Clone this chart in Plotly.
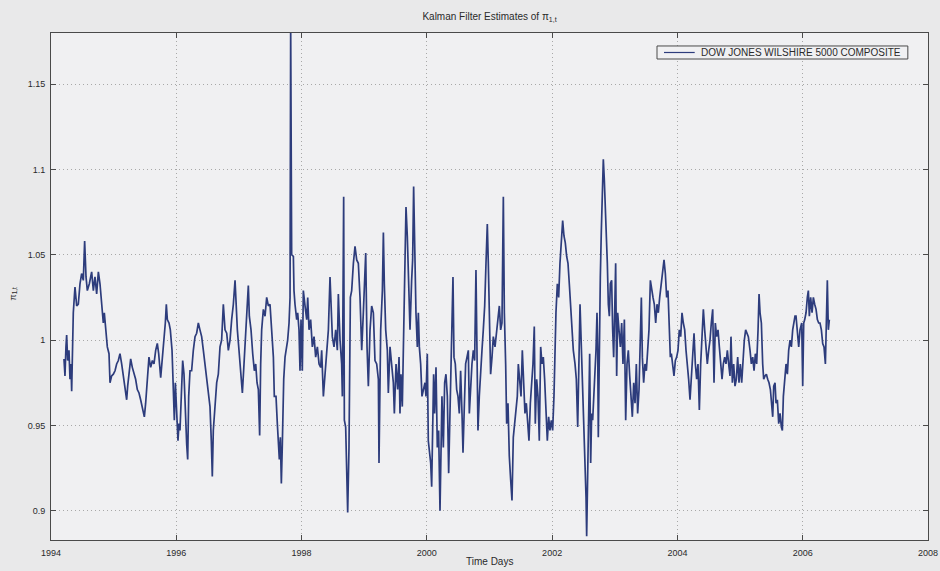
import plotly.graph_objects as go

# Decimal-year time stamps and Kalman filter estimates
years_94_96 = [1994.207, 1994.223, 1994.239, 1994.250, 1994.266, 1994.287, 1994.303, 1994.319, 1994.330, 1994.346,
               1994.356, 1994.372, 1994.383, 1994.410, 1994.436, 1994.463, 1994.489, 1994.516, 1994.537, 1994.559,
               1994.580, 1994.612, 1994.649, 1994.676, 1994.702, 1994.729, 1994.756, 1994.782, 1994.809, 1994.835,
               1994.851, 1994.873, 1994.899, 1994.926, 1994.942, 1994.968, 1994.995, 1995.022, 1995.048, 1995.075,
               1995.101, 1995.128, 1995.155, 1995.181, 1995.208, 1995.224, 1995.250, 1995.272, 1995.298, 1995.325,
               1995.351, 1995.378, 1995.405, 1995.431, 1995.458, 1995.490, 1995.511, 1995.538, 1995.564, 1995.591,
               1995.618, 1995.644, 1995.671, 1995.697, 1995.719, 1995.751, 1995.777, 1995.804, 1995.825, 1995.841,
               1995.857, 1995.884, 1995.905, 1995.932, 1995.953, 1995.969, 1995.985, 1996.006, 1996.027, 1996.043,
               1996.059, 1996.080, 1996.102, 1996.123, 1996.144, 1996.166, 1996.182, 1996.198, 1996.219, 1996.245,
               1996.272, 1996.299, 1996.325, 1996.352, 1996.378, 1996.405, 1996.432, 1996.458, 1996.485, 1996.511,
               1996.538, 1996.559, 1996.575, 1996.591, 1996.618, 1996.645, 1996.671, 1996.698, 1996.724, 1996.751]
values_94_96 = [0.989, 0.979, 0.996, 1.003, 0.988, 0.994, 0.977, 0.986, 0.970, 1.006,
                1.016, 1.025, 1.031, 1.020, 1.021, 1.033, 1.039, 1.035, 1.058, 1.037,
                1.029, 1.033, 1.040, 1.029, 1.037, 1.027, 1.040, 1.033, 1.021, 1.010,
                1.016, 1.006, 0.996, 0.992, 0.975, 0.979, 0.980, 0.982, 0.986, 0.988,
                0.992, 0.986, 0.979, 0.971, 0.965, 0.973, 0.980, 0.989, 0.984, 0.980,
                0.977, 0.971, 0.969, 0.965, 0.961, 0.955, 0.963, 0.979, 0.990, 0.984,
                0.988, 0.986, 0.994, 0.998, 0.992, 0.978, 0.988, 1.000, 1.010, 1.021,
                1.012, 1.010, 1.006, 0.994, 0.975, 0.953, 0.975, 0.955, 0.941, 0.951,
                0.947, 0.967, 0.988, 0.980, 0.957, 0.939, 0.930, 0.967, 0.982, 0.982,
                0.994, 1.002, 1.004, 1.010, 1.006, 1.002, 0.994, 0.986, 0.979, 0.969,
                0.961, 0.941, 0.920, 0.947, 0.963, 0.975, 0.980, 0.996, 1.000, 1.021]

years_96_99 = [1996.778, 1996.805, 1996.831, 1996.858, 1996.884, 1996.911, 1996.938, 1996.954, 1996.975, 1997.001,
               1997.028, 1997.055, 1997.081, 1997.108, 1997.135, 1997.150, 1997.166, 1997.193, 1997.220, 1997.246,
               1997.268, 1997.289, 1997.310, 1997.331, 1997.347, 1997.363, 1997.390, 1997.417, 1997.443, 1997.470,
               1997.496, 1997.523, 1997.550, 1997.565, 1997.592, 1997.613, 1997.629, 1997.645, 1997.661, 1997.677,
               1997.693, 1997.715, 1997.736, 1997.757, 1997.778, 1997.800, 1997.816, 1997.826, 1997.842, 1997.869,
               1997.879, 1997.895, 1997.922, 1997.938, 1997.959, 1997.975, 1997.991, 1998.012, 1998.028, 1998.055,
               1998.082, 1998.098, 1998.119, 1998.145, 1998.172, 1998.199, 1998.225, 1998.252, 1998.279, 1998.305,
               1998.321, 1998.348, 1998.374, 1998.401, 1998.428, 1998.454, 1998.470, 1998.491, 1998.518, 1998.545,
               1998.571, 1998.587, 1998.614, 1998.640, 1998.651, 1998.672, 1998.683, 1998.704, 1998.736, 1998.757,
               1998.779, 1998.800, 1998.827, 1998.853, 1998.880, 1998.906, 1998.933, 1998.960, 1998.986, 1999.024,
               1999.045, 1999.066, 1999.093, 1999.119, 1999.146, 1999.172, 1999.199, 1999.226, 1999.236, 1999.263,
               1999.290, 1999.306, 1999.321, 1999.343, 1999.369, 1999.385, 1999.412, 1999.439, 1999.465, 1999.481,
               1999.508, 1999.534, 1999.556]
values_96_99 = [1.006, 1.004, 0.994, 1.000, 1.012, 1.021, 1.035, 1.020, 1.006, 0.994,
                0.979, 0.969, 0.986, 1.004, 1.020, 1.032, 1.014, 1.006, 0.992, 0.982,
                0.986, 0.975, 0.971, 0.944, 0.986, 1.006, 1.018, 1.014, 1.025, 1.020,
                1.021, 1.006, 0.990, 0.967, 0.967, 0.951, 0.937, 0.930, 0.943, 0.916,
                0.939, 0.977, 0.990, 0.996, 1.000, 1.010, 1.025, 1.185, 1.050, 1.049,
                1.029, 1.021, 1.012, 1.016, 1.006, 0.982, 1.012, 0.982, 1.029, 1.020,
                1.012, 1.025, 1.006, 1.012, 0.996, 1.002, 0.990, 0.996, 0.986, 0.984,
                0.994, 0.967, 0.979, 0.990, 1.006, 1.037, 1.016, 1.002, 0.996, 1.006,
                0.994, 1.027, 1.000, 0.986, 0.967, 1.084, 0.953, 0.949, 0.899, 0.937,
                1.025, 1.029, 1.045, 1.055, 1.047, 1.045, 1.025, 0.994, 1.016, 1.051,
                0.996, 0.973, 1.006, 1.020, 1.016, 0.988, 0.986, 0.977, 0.928, 1.006,
                1.029, 1.063, 1.033, 1.006, 0.994, 0.969, 0.996, 0.986, 0.975, 0.957,
                0.986, 0.971, 0.990]

years_99_02 = [1999.571, 1999.587, 1999.608, 1999.624, 1999.645, 1999.667, 1999.688, 1999.709, 1999.731, 1999.757,
               1999.773, 1999.789, 1999.805, 1999.826, 1999.848, 1999.864, 1999.880, 1999.901, 1999.922, 1999.943,
               1999.970, 1999.986, 2000.007, 2000.023, 2000.039, 2000.061, 2000.077, 2000.092, 2000.108, 2000.124,
               2000.146, 2000.167, 2000.188, 2000.210, 2000.225, 2000.241, 2000.263, 2000.284, 2000.305, 2000.327,
               2000.348, 2000.369, 2000.385, 2000.401, 2000.417, 2000.433, 2000.454, 2000.476, 2000.497, 2000.518,
               2000.539, 2000.561, 2000.577, 2000.598, 2000.619, 2000.641, 2000.662, 2000.678, 2000.699, 2000.720,
               2000.742, 2000.763, 2000.784, 2000.800, 2000.816, 2000.837, 2000.859, 2000.880, 2000.901, 2000.923,
               2000.944, 2000.965, 2000.981, 2000.997, 2001.018, 2001.040, 2001.061, 2001.088, 2001.114, 2001.135,
               2001.157, 2001.178, 2001.199, 2001.221, 2001.237, 2001.258, 2001.274, 2001.295, 2001.316, 2001.338,
               2001.359, 2001.380, 2001.401, 2001.423, 2001.444, 2001.460, 2001.481, 2001.503, 2001.524, 2001.545,
               2001.566, 2001.588, 2001.609, 2001.630, 2001.652, 2001.673, 2001.694, 2001.715, 2001.731, 2001.753,
               2001.774, 2001.795, 2001.817, 2001.838, 2001.859, 2001.880, 2001.902, 2001.923, 2001.944, 2001.965,
               2001.987, 2002.008, 2002.029, 2002.045, 2002.061, 2002.083, 2002.104, 2002.125, 2002.146, 2002.168,
               2002.189, 2002.210, 2002.232, 2002.253, 2002.274, 2002.295, 2002.317, 2002.338]
values_99_02 = [0.957, 0.980, 0.961, 0.996, 1.025, 1.078, 1.061, 1.025, 1.006, 1.035,
                1.047, 1.090, 1.045, 1.016, 0.996, 1.016, 0.996, 0.986, 0.967, 0.971,
                0.975, 0.967, 0.992, 0.941, 0.934, 0.928, 0.914, 0.947, 0.980, 0.957,
                0.984, 0.937, 0.947, 0.900, 0.928, 0.967, 0.937, 0.975, 0.980, 0.967,
                0.922, 0.957, 0.996, 1.016, 1.037, 0.990, 0.986, 0.971, 0.967, 0.957,
                0.982, 0.957, 0.934, 0.961, 0.986, 0.990, 0.994, 0.957, 0.975, 0.986,
                0.994, 0.988, 1.041, 0.982, 0.947, 0.967, 0.986, 0.994, 1.006, 1.020,
                1.045, 1.068, 1.045, 1.006, 0.980, 0.990, 1.002, 0.996, 1.006, 1.012,
                1.020, 1.006, 1.010, 1.084, 1.016, 0.986, 0.951, 0.963, 0.932, 0.918,
                0.906, 0.943, 0.951, 0.955, 0.967, 0.986, 0.977, 0.967, 0.994, 0.971,
                0.957, 0.963, 0.951, 0.941, 0.963, 0.977, 0.986, 1.008, 0.951, 0.977,
                0.967, 0.941, 0.996, 0.986, 0.990, 0.977, 0.957, 0.941, 0.955, 0.947,
                0.953, 0.947, 0.967, 0.994, 1.016, 1.033, 1.025, 1.045, 1.055, 1.070,
                1.061, 1.057, 1.049, 1.045, 1.033, 1.020, 1.006, 0.994]

years_02_05 = [2002.365, 2002.386, 2002.408, 2002.429, 2002.445, 2002.461, 2002.482, 2002.503, 2002.525, 2002.541,
               2002.551, 2002.567, 2002.583, 2002.599, 2002.615, 2002.631, 2002.647, 2002.663, 2002.684, 2002.700,
               2002.716, 2002.727, 2002.737, 2002.753, 2002.769, 2002.785, 2002.801, 2002.817, 2002.833, 2002.849,
               2002.865, 2002.881, 2002.897, 2002.913, 2002.929, 2002.950, 2002.966, 2002.982, 2002.998, 2003.014,
               2003.030, 2003.046, 2003.067, 2003.089, 2003.110, 2003.131, 2003.153, 2003.174, 2003.195, 2003.216,
               2003.238, 2003.259, 2003.280, 2003.302, 2003.323, 2003.344, 2003.365, 2003.387, 2003.408, 2003.424,
               2003.440, 2003.461, 2003.482, 2003.504, 2003.525, 2003.546, 2003.568, 2003.589, 2003.610, 2003.631,
               2003.653, 2003.674, 2003.695, 2003.717, 2003.738, 2003.759, 2003.786, 2003.807, 2003.828, 2003.849,
               2003.871, 2003.887, 2003.903, 2003.924, 2003.945, 2003.967, 2003.988, 2004.009, 2004.030, 2004.052,
               2004.073, 2004.094, 2004.116, 2004.137, 2004.158, 2004.179, 2004.201, 2004.222, 2004.243, 2004.265,
               2004.286, 2004.307, 2004.328, 2004.350, 2004.371, 2004.392, 2004.414, 2004.435, 2004.456, 2004.477,
               2004.499, 2004.520, 2004.541, 2004.563, 2004.584, 2004.605, 2004.626, 2004.648, 2004.669, 2004.690,
               2004.712, 2004.733, 2004.754, 2004.775, 2004.797, 2004.818, 2004.839, 2004.855, 2004.877, 2004.898,
               2004.919, 2004.940, 2004.962, 2004.983, 2005.004, 2005.026, 2005.047, 2005.068, 2005.089, 2005.111,
               2005.132]
values_02_05 = [0.986, 0.977, 0.949, 0.994, 1.021, 1.002, 0.977, 0.957, 0.937, 0.908,
                0.885, 0.918, 0.955, 0.992, 0.928, 0.957, 0.953, 0.967, 0.977, 0.994,
                1.016, 0.996, 0.943, 1.006, 1.037, 1.064, 1.094, 1.106, 1.094, 1.080,
                1.064, 1.045, 1.021, 1.014, 1.033, 1.035, 1.006, 0.990, 1.016, 1.045,
                0.979, 1.016, 1.006, 0.996, 1.010, 0.986, 1.012, 0.953, 0.986, 0.994,
                0.979, 0.967, 0.955, 0.975, 0.963, 0.986, 0.957, 0.971, 1.000, 1.025,
                0.990, 0.975, 0.986, 0.982, 0.994, 1.006, 1.035, 1.029, 1.025, 1.021,
                1.010, 1.021, 1.016, 1.025, 1.033, 1.041, 1.047, 1.039, 1.025, 1.029,
                1.006, 0.990, 0.992, 0.986, 0.979, 0.988, 0.990, 0.994, 1.006, 1.002,
                1.016, 1.010, 1.006, 0.994, 0.986, 0.977, 0.965, 0.977, 0.994, 1.004,
                0.986, 0.977, 0.986, 0.959, 0.986, 1.006, 1.018, 1.006, 0.994, 0.986,
                0.994, 1.000, 1.010, 1.018, 0.975, 1.010, 1.002, 1.006, 0.996, 0.986,
                0.977, 0.986, 0.990, 0.986, 0.994, 0.986, 0.979, 1.002, 0.975, 0.986,
                0.973, 0.977, 0.990, 0.975, 0.986, 0.975, 0.990, 1.000, 1.006, 1.004,
                1.002]

years_05_06 = [2005.159, 2005.180, 2005.202, 2005.223, 2005.244, 2005.265, 2005.287, 2005.303, 2005.319, 2005.340,
               2005.361, 2005.377, 2005.398, 2005.420, 2005.441, 2005.462, 2005.484, 2005.505, 2005.521, 2005.537,
               2005.558, 2005.574, 2005.595, 2005.617, 2005.638, 2005.659, 2005.675, 2005.691, 2005.712, 2005.734,
               2005.755, 2005.776, 2005.798, 2005.819, 2005.840, 2005.861, 2005.877, 2005.893, 2005.915, 2005.936,
               2005.957, 2005.984, 2006.000, 2006.016, 2006.032, 2006.053, 2006.074, 2006.090, 2006.106, 2006.127,
               2006.149, 2006.170, 2006.191, 2006.213, 2006.234, 2006.255, 2006.276, 2006.298, 2006.319, 2006.340,
               2006.362, 2006.377, 2006.393, 2006.409, 2006.425]
values_05_06 = [0.994, 0.986, 0.990, 0.982, 0.992, 0.986, 1.006, 1.027, 1.016, 1.010,
                0.986, 0.977, 0.979, 0.980, 0.977, 0.975, 0.971, 0.961, 0.955, 0.973,
                0.975, 0.963, 0.965, 0.951, 0.957, 0.949, 0.947, 0.967, 0.975, 0.986,
                0.980, 0.994, 1.000, 0.996, 1.006, 1.010, 1.014, 1.014, 1.006, 0.996,
                1.006, 1.010, 0.973, 1.010, 1.012, 1.016, 1.025, 1.029, 1.014, 1.025,
                1.016, 1.025, 1.021, 1.018, 1.012, 1.010, 1.010, 1.006, 0.998, 0.996,
                0.986, 1.021, 1.035, 1.006, 1.012]

years = years_94_96 + years_96_99 + years_99_02 + years_02_05 + years_05_06
values = values_94_96 + values_96_99 + values_99_02 + values_02_05 + values_05_06

x_ticks = [1994, 1996, 1998, 2000, 2002, 2004, 2006, 2008]
y_ticks = [0.9, 0.95, 1.0, 1.05, 1.1, 1.15]
y_tick_labels = ["0.9", "0.95", "1", "1.05", "1.1", "1.15"]

series_name = "DOW JONES WILSHIRE 5000 COMPOSITE"
font_family = "Liberation Sans, Arial, sans-serif"
text_color = "#2a2a2a"
line_color = "#2d3c7c"
frame_color = "#4a4a4a"
plot_bg = "#f0f0f2"

fig = go.Figure()
fig.add_trace(go.Scatter(
    x=years, y=values, mode="lines", name=series_name,
    line=dict(color=line_color, width=1.7),
    showlegend=False,
))

axis_common = dict(
    showline=True, linecolor=frame_color, linewidth=1, mirror="ticks",
    ticks="inside", ticklen=5, tickcolor=frame_color, tickwidth=1,
    showgrid=True, gridcolor="#a8a8a8", gridwidth=1, griddash="1px,3px",
    zeroline=False, automargin=False,
    tickfont=dict(family=font_family, size=9, color=text_color),
)

fig.update_layout(
    template="none",
    width=940, height=571,
    margin=dict(l=51, r=12, t=33, b=31, autoexpand=False),
    paper_bgcolor="#e9e9ea",
    plot_bgcolor=plot_bg,
    font=dict(family=font_family, size=9, color=text_color),
    showlegend=False,
    title=dict(text="Kalman Filter Estimates of π<sub>1,t</sub>", x=0.5, xref="paper", xanchor="center",
               y=1 - 16 / 571, yref="container", yanchor="middle",
               font=dict(family=font_family, size=10, color=text_color)),
    xaxis=dict(range=[1994, 2008], tickvals=x_ticks, ticktext=[str(v) for v in x_ticks],
               ticklabelstandoff=4, **axis_common),
    yaxis=dict(range=[0.8828, 1.18], tickvals=y_ticks, ticktext=y_tick_labels,
               ticklabelstandoff=3, **axis_common),
)

# axis titles
fig.add_annotation(text="Time Days", xref="paper", yref="paper", x=0.5, y=0,
                   xanchor="center", yanchor="middle", yshift=-21, showarrow=False,
                   font=dict(family=font_family, size=10, color=text_color))
fig.add_annotation(text="π<sub>1,t</sub>", xref="paper", yref="paper", x=0, y=0.5,
                   xanchor="center", yanchor="middle", xshift=-38, yshift=-8, textangle=-90,
                   showarrow=False, font=dict(family=font_family, size=9, color=text_color))

# legend box (MATLAB style)
lx0, lx1, ly0, ly1 = 0.691, 0.977, 0.9487, 0.9744
ly_mid = (ly0 + ly1) / 2
fig.add_shape(type="rect", xref="paper", yref="paper", x0=lx0, x1=lx1, y0=ly0, y1=ly1,
              line=dict(color=frame_color, width=1), fillcolor=plot_bg, layer="above")
fig.add_shape(type="line", xref="paper", yref="paper", x0=0.699, x1=0.734, y0=ly_mid, y1=ly_mid,
              line=dict(color=line_color, width=1.2), layer="above")
fig.add_annotation(text=series_name, xref="paper", yref="paper", x=0.739, y=ly_mid,
                   xanchor="left", yanchor="middle", showarrow=False,
                   font=dict(family=font_family, size=10, color=text_color))

fig.write_html("out.html")
